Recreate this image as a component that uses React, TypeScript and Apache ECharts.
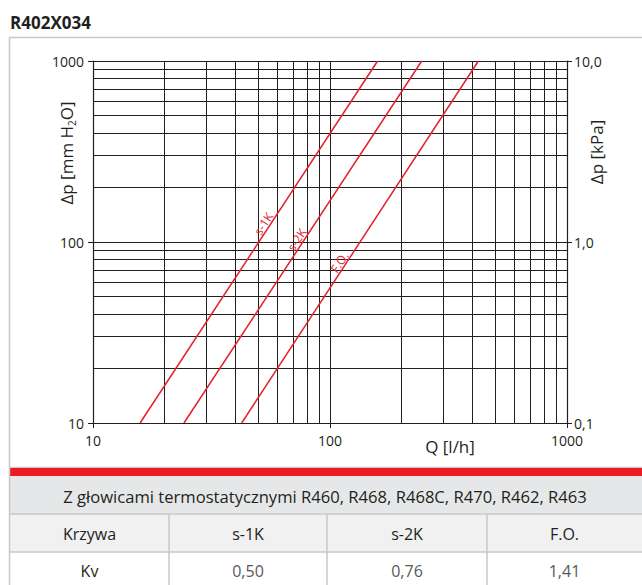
import React, { useEffect, useRef } from "react";
import * as echarts from "echarts";

// Flow grid (l/h) and head grid (mm H2O) – intermediate log lines
const flowGrid = [20, 30, 40, 50, 60, 70, 80, 90, 200, 300, 400, 500, 600, 700, 800, 900];
const headGrid = [20, 30, 40, 50, 60, 70, 80, 90, 200, 300, 400, 500, 600, 700, 800, 900];
const flowLabels = ["10", "100", "1000"];
const headLabels = ["10", "100", "1000"];
const kpaLabels = ["0,1", "1,0", "10,0"];

// Curves: [Q l/h, Δp mm H2O]
const curveNames = ["s-1K", "s-2K", "F.O."];
const curveS1K = [[15.8, 10], [158.8, 1000]];
const curveS2K = [[24.2, 10], [243.8, 1000]];
const curveFO = [[42.4, 10], [422.7, 1000]];
const curveLabelAt = [[55, 121], [76, 99], [115, 74]];

const tableTitle = "Z głowicami termostatycznymi R460, R468, R468C, R470, R462, R463";
const tableHead = ["Krzywa", "s-1K", "s-2K", "F.O."];
const tableKv = ["Kv", "0,50", "0,76", "1,41"];

const FONT = "'Open Sans', sans-serif";
const INK = "#231f20";
const RED = "#e3202a";
const BORDER = "#c7c8ca";

export default function App() {
  const ref = useRef<HTMLDivElement>(null);

  useEffect(() => {
    if (!ref.current) return;
    const chart = echarts.init(ref.current, null, { renderer: "svg" });

    const curves = [curveS1K, curveS2K, curveFO];
    const colX = [10, 169, 327, 487, 642];

    const lineSeries = curves.map((d, i) => ({
      type: "line",
      name: curveNames[i],
      data: d,
      showSymbol: false,
      symbol: "none",
      z: 5,
      lineStyle: { color: RED, width: 1.5 },
      xAxisIndex: 0,
      yAxisIndex: 0,
    }));

    const graphics: any[] = [
      {
        type: "text",
        left: 10,
        top: 14,
        style: { text: "R402X034", fontSize: 17, fontWeight: "bold", fontFamily: FONT, fill: INK },
      },
      {
        type: "rect",
        shape: { x: 9.5, y: 37.5, width: 660, height: 430 },
        style: { fill: "none", stroke: BORDER, lineWidth: 1.5 },
      },
      { type: "rect", shape: { x: 10, y: 468, width: 632, height: 8 }, style: { fill: "#ed1c24" } },
      { type: "rect", shape: { x: 10, y: 476, width: 632, height: 38 }, style: { fill: "#e6e7e8" } },
      { type: "rect", shape: { x: 10, y: 514, width: 632, height: 38 }, style: { fill: "#f1f1f2" } },
      { type: "rect", shape: { x: 10, y: 552, width: 632, height: 33 }, style: { fill: "#ffffff" } },
      { type: "line", shape: { x1: 9.5, y1: 468, x2: 9.5, y2: 585 }, style: { stroke: BORDER, lineWidth: 1.5 } },
      { type: "line", shape: { x1: 10, y1: 514, x2: 642, y2: 514 }, style: { stroke: BORDER, lineWidth: 1.5 } },
      { type: "line", shape: { x1: 10, y1: 552, x2: 642, y2: 552 }, style: { stroke: BORDER, lineWidth: 1.5 } },
      ...colX.slice(1, 4).map((x) => ({
        type: "line",
        shape: { x1: x, y1: 514, x2: x, y2: 585 },
        style: { stroke: BORDER, lineWidth: 1.5 },
      })),
      {
        type: "text",
        x: 325,
        y: 496,
        style: { text: tableTitle, fontSize: 16.6, fontFamily: FONT, fill: INK, align: "center", verticalAlign: "middle" },
      },
      ...tableHead.map((t, i) => ({
        type: "text",
        x: (colX[i] + colX[i + 1]) / 2,
        y: 534,
        style: { text: t, fontSize: 16, fontFamily: FONT, fill: INK, align: "center", verticalAlign: "middle" },
      })),
      ...tableKv.map((t, i) => ({
        type: "text",
        x: (colX[i] + colX[i + 1]) / 2,
        y: 571,
        style: {
          text: t,
          fontSize: 16,
          fontFamily: FONT,
          fill: i === 0 ? INK : "#58595b",
          align: "center",
          verticalAlign: "middle",
        },
      })),
      {
        type: "text",
        x: 66,
        y: 153,
        rotation: Math.PI / 2,
        style: {
          text: "{n|Δp [mm H}{sub|2}{n|O]}",
          fontFamily: FONT,
          fill: INK,
          align: "center",
          verticalAlign: "middle",
          rich: {
            n: { fontSize: 17, fontFamily: FONT, fill: INK, lineHeight: 22 },
            sub: { fontSize: 10, fontFamily: FONT, fill: INK, verticalAlign: "bottom", lineHeight: 10 },
          },
        },
      },
      {
        type: "text",
        x: 596,
        y: 152,
        rotation: Math.PI / 2,
        style: { text: "Δp [kPa]", fontSize: 17, fontFamily: FONT, fill: INK, align: "center", verticalAlign: "middle" },
      },
      {
        type: "text",
        x: 450,
        y: 446,
        style: { text: "Q [l/h]", fontSize: 17, fontFamily: FONT, fill: INK, align: "center", verticalAlign: "middle" },
      },
    ];

    const axisLine = { show: true, lineStyle: { color: INK, width: 1.2 } };
    const axisTick = { show: true, inside: false, length: 5, lineStyle: { color: INK } };

    chart.setOption({
      animation: false,
      backgroundColor: "#ffffff",
      grid: { left: 93, top: 61, width: 474, height: 362, containLabel: false },
      xAxis: {
        type: "log",
        logBase: 10,
        min: 10,
        max: 1000,
        axisLine,
        axisTick,
        axisLabel: {
          fontSize: 14,
          lineHeight: 14,
          fontFamily: FONT,
          color: INK,
          margin: 10,
          formatter: (_v: number, idx: number) => flowLabels[idx],
        },
        splitLine: { show: true, lineStyle: { color: INK, width: 1 } },
      },
      yAxis: [
        {
          type: "log",
          logBase: 10,
          min: 10,
          max: 1000,
          position: "left",
          axisLine,
          axisTick,
          axisLabel: {
            fontSize: 14,
            lineHeight: 14,
            fontFamily: FONT,
            color: INK,
            margin: 9,
            formatter: (_v: number, idx: number) => headLabels[idx],
          },
          splitLine: { show: true, lineStyle: { color: INK, width: 1 } },
        },
        {
          type: "log",
          logBase: 10,
          min: 0.1,
          max: 10,
          position: "right",
          axisLine,
          axisTick,
          axisLabel: {
            fontSize: 14,
            lineHeight: 14,
            fontFamily: FONT,
            color: INK,
            margin: 7,
            formatter: (_v: number, idx: number) => kpaLabels[idx],
          },
          splitLine: { show: false },
        },
      ],
      series: [
        {
          type: "line",
          name: "grid",
          data: [],
          z: 1,
          silent: true,
          markLine: {
            silent: true,
            symbol: "none",
            label: { show: false },
            lineStyle: { color: INK, width: 1, type: "solid" },
            emphasis: { disabled: true },
            data: [
              ...flowGrid.map((v) => ({ xAxis: v })),
              ...headGrid.map((v) => ({ yAxis: v })),
            ],
          },
        },
        ...lineSeries,
      ],
      graphic: graphics,
    });

    // Curve names written along each line, placed through the axis scales
    const finder = { xAxisIndex: 0, yAxisIndex: 0 };
    const curveLabels = curveLabelAt.map((p, i) => {
      const [px, py] = chart.convertToPixel(finder, p) as number[];
      const [ax, ay] = chart.convertToPixel(finder, curves[i][0]) as number[];
      const [bx, by] = chart.convertToPixel(finder, curves[i][1]) as number[];
      const angle = Math.atan2(ay - by, bx - ax);
      return {
        type: "text",
        x: px,
        y: py,
        rotation: angle,
        z: 10,
        style: {
          text: curveNames[i],
          fontSize: 12,
          fontFamily: FONT,
          fill: RED,
          align: "center",
          verticalAlign: "bottom",
        },
      };
    });
    chart.setOption({ graphic: [...graphics, ...curveLabels] });

    return () => chart.dispose();
  }, []);

  return (
    <div
      ref={ref}
      style={{ position: "fixed", left: 0, top: 0, width: 642, height: 585, background: "#fff" }}
    />
  );
}
